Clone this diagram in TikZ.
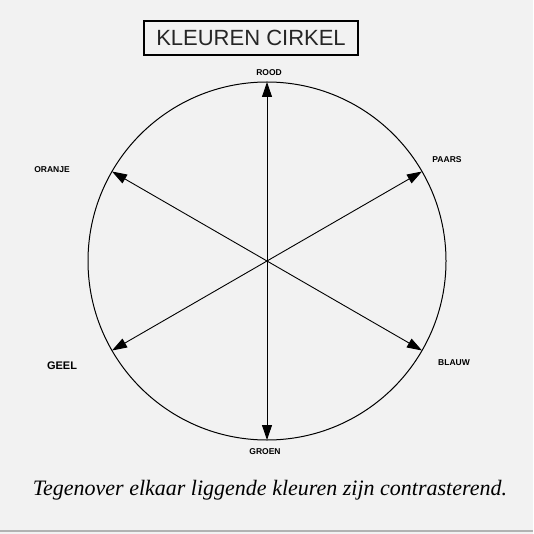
\documentclass[tikz,border=0pt]{standalone}
\usepackage{fontspec}
\setmainfont{Liberation Serif}
\newfontfamily\hand{Liberation Sans}
\usetikzlibrary{arrows.meta}
\begin{document}
\begin{tikzpicture}[x=1pt,y=-1pt,
  spoke/.style={line width=0.9pt,{Triangle[length=15pt,width=10pt]}-{Triangle[length=15pt,width=10pt]}},
  lbl/.style={font=\hand\bfseries\fontsize{8.5}{10}\selectfont, inner sep=1pt}]
\fill[gray!10] (0,0) rectangle (533,534);
\useasboundingbox (0,0) rectangle (533,534);
\draw[gray!60, line width=1.5pt] (0,531) -- (533,531);
\node[draw, line width=1.4pt, minimum width=214pt, minimum height=34pt, font=\hand\fontsize{22}{24}\selectfont, text=black!85] (title) at (251,38) {KLEUREN CIRKEL};
\coordinate (c) at (267,261);
\draw[line width=1pt] (c) circle (179pt);
\path (c) ++(0,-179) coordinate (top);
\path (c) ++(0,179) coordinate (bot);
\path (c) ++(-155,-89.5) coordinate (or);
\path (c) ++(155,89.5) coordinate (bl);
\path (c) ++(155,-89.5) coordinate (pa);
\path (c) ++(-155,89.5) coordinate (ge);
\draw[spoke] (top) -- (bot);
\draw[spoke] (or) -- (bl);
\draw[spoke] (pa) -- (ge);
\node[lbl] (lr) at (269,73) {ROOD};
\node[lbl] (lo) at (52,170) {ORANJE};
\node[lbl] (lp) at (447,160) {PAARS};
\node[lbl, font=\hand\bfseries\fontsize{11}{12}\selectfont] (lg) at (62,366) {GEEL};
\node[lbl] (lb) at (454,363) {BLAUW};
\node[lbl] (lgr) at (265,452) {GROEN};
\node[font=\itshape\fontsize{22}{26}\selectfont] (note) at (270,490) {Tegenover elkaar liggende kleuren zijn contrasterend.};
\end{tikzpicture}
\end{document}
